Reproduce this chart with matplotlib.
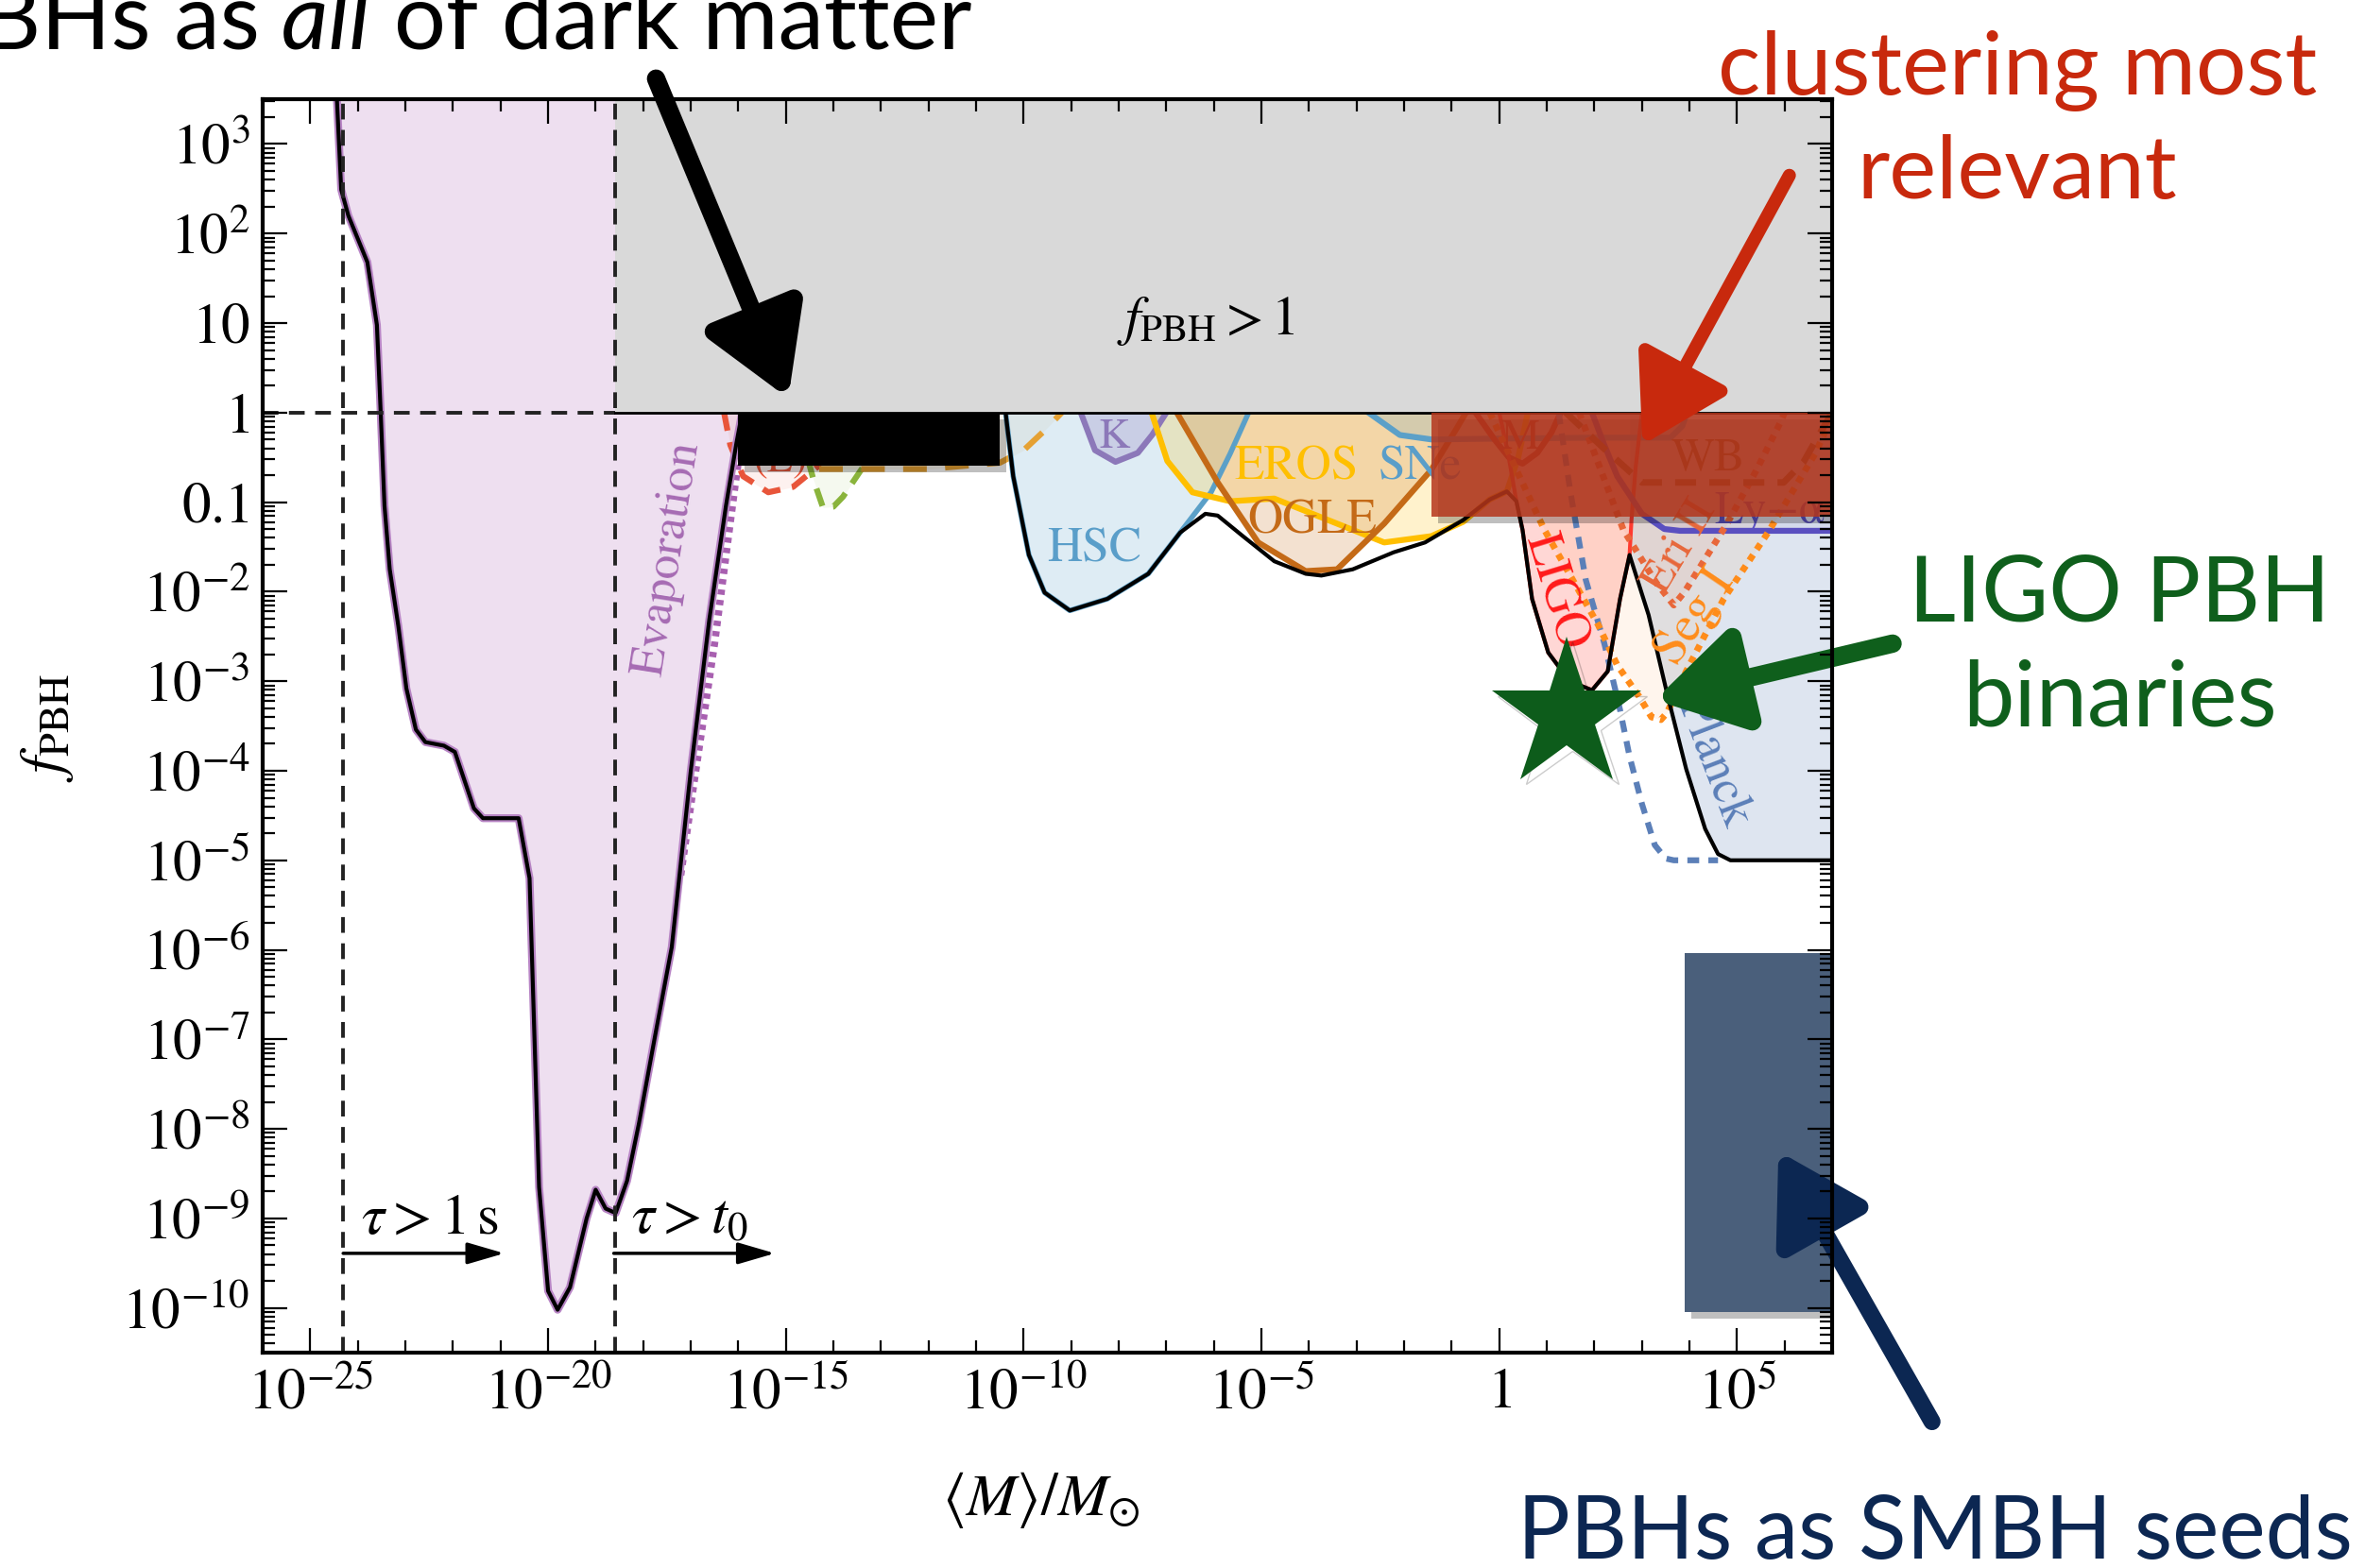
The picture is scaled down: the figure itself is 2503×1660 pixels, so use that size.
import numpy as np
import matplotlib
matplotlib.use("Agg")
import matplotlib.pyplot as plt
import matplotlib.patheffects as pe
from matplotlib.patches import Rectangle
from matplotlib.ticker import FixedLocator, LogLocator, NullFormatter

plt.rcParams['font.family'] = 'STIXGeneral'
plt.rcParams['mathtext.fontset'] = 'stix'
plt.rcParams['lines.scale_dashes'] = False

# all values below are log10(M/Msun) and log10(f_PBH)

evap_m = [-24.45, -24.35, -24.2, -23.8, -23.6, -23.52, -23.44, -23.33, -23.15, -22.98,
          -22.78, -22.58, -22.19, -21.96, -21.56, -21.37, -20.62, -20.39, -20.19, -20.0,
          -19.8, -19.54, -19.19, -19.0, -18.79, -18.58, -18.34, -18.09, -17.75, -17.4,
          -17.0, -16.61, -16.26, -16.04, -15.92]
evap_f = [3.6, 2.49, 2.2, 1.68, 0.98, 0.0, -1.04, -1.75, -2.38, -3.08,
          -3.54, -3.68, -3.72, -3.79, -4.42, -4.53, -4.53, -5.2, -8.65, -9.81,
          -10.02, -9.77, -9.0, -8.68, -8.89, -8.94, -8.58, -7.94, -6.96, -5.97,
          -4.0, -2.31, -1.04, -0.34, 0.0]
evap_dot_m = [-15.86, -16.07, -16.5, -16.95, -17.22]
evap_dot_f = [0.0, -0.82, -2.58, -4.2, -5.2]

red_l_m = [-16.3, -16.17, -15.9, -15.37, -14.85, -14.32, -14.05]
red_l_f = [0.0, -0.36, -0.71, -0.89, -0.83, -0.6, 0.0]
green_m = [-14.7, -14.42, -14.22, -14.0, -13.8, -13.33, -13.0]
green_f = [-0.2, -0.75, -1.06, -1.05, -0.94, -0.57, -0.15]
orange_m = [-14.3, -12.0, -10.5, -10.0, -9.6, -9.2]
orange_f = [-0.63, -0.63, -0.56, -0.42, -0.22, 0.0]

hsc_m = [-10.38, -10.22, -9.89, -9.56, -9.03, -8.24, -7.38, -6.71, -6.06, -5.66, -5.27]
hsc_f = [0.0, -0.71, -1.59, -2.01, -2.21, -2.08, -1.8, -1.34, -0.89, -0.46, 0.0]
kep_m = [-8.8, -8.5, -8.07, -7.6, -7.3, -7.0]
kep_f = [0.0, -0.42, -0.55, -0.45, -0.25, 0.0]
eros_m = [-7.31, -6.98, -6.45, -5.66, -4.73, -3.74, -2.42, -1.43, -0.76, -0.2, 0.16, 0.4, 0.6]
eros_f = [0.0, -0.54, -0.89, -0.99, -0.96, -1.17, -1.45, -1.38, -1.22, -0.97, -0.88, -0.5, 0.0]
ogle_m = [-6.78, -5.92, -5.07, -4.07, -3.41, -2.42, -1.43, -0.9, -0.7]
ogle_f = [0.0, -0.78, -1.45, -1.77, -1.75, -1.24, -0.64, -0.18, 0.0]
sne_m = [-2.75, -2.09, -1.42, 0.0, 2.0, 3.6, 3.85, 3.95]
sne_f = [0.0, -0.25, -0.3, -0.29, -0.28, -0.28, -0.15, 0.0]

macho_m = [-0.5, -0.1, 0.2, 0.49, 0.8, 1.1, 1.29]
macho_f = [0.0, -0.3, -0.5, -0.57, -0.45, -0.22, 0.0]
ligo_m = [0.0, 0.2, 0.36, 0.49, 0.69, 1.03, 1.48, 1.95, 2.28, 2.54, 2.74, 2.78, 2.87, 3.0]
ligo_f = [0.0, -0.5, -0.99, -1.31, -2.08, -2.68, -3.0, -3.1, -2.89, -2.08, -1.59, -1.2, -0.6, 0.0]
planck_m = [2.74, 3.14, 3.53, 3.93, 4.33, 4.6, 4.86, 5.2, 7.0]
planck_f = [-1.59, -2.26, -3.14, -3.98, -4.65, -4.93, -5.0, -5.0, -5.0]
planck_d_m = [1.25, 1.5, 1.82, 2.21, 2.54, 2.74, 3.0, 3.27, 3.5, 3.67, 4.6]
planck_d_f = [0.0, -0.9, -1.87, -2.58, -3.32, -3.84, -4.37, -4.83, -4.98, -5.0, -5.0]
lya_m = [1.95, 2.2, 2.48, 3.0, 3.47, 3.8, 7.0]
lya_f = [0.0, -0.35, -0.71, -1.13, -1.3, -1.32, -1.32]
eri_m = [1.68, 2.61, 3.3, 3.67, 3.9, 4.79, 5.4, 5.91, 6.0]
eri_f = [0.0, -1.31, -1.9, -2.15, -2.0, -1.24, -0.65, -0.11, 0.0]
seg_m = [-0.2, 0.95, 2.08, 2.48, 2.94, 3.2, 3.4, 3.53, 3.93, 4.72, 5.65, 6.64, 6.95]
seg_f = [0.0, -1.31, -2.37, -2.82, -3.17, -3.4, -3.43, -3.35, -2.89, -2.08, -1.34, -0.46, -0.1]
wb_m = [1.4, 2.2, 3.0, 4.5, 5.98, 6.4, 6.72, 7.0]
wb_f = [0.0, -0.4, -0.78, -0.78, -0.78, -0.55, -0.25, 0.0]

env_m = [-10.38, -10.22, -9.89, -9.56, -9.03, -8.24, -7.38, -6.71, -6.18, -5.92, -5.39,
         -4.73, -4.07, -3.74, -3.08, -2.22, -1.56, -0.76, -0.2, 0.16, 0.36, 0.49, 0.69,
         1.03, 1.48, 1.95, 2.28, 2.54, 2.74, 3.14, 3.53, 3.93, 4.33, 4.6, 4.86, 7.0]
env_f = [0.0, -0.71, -1.59, -2.01, -2.21, -2.08, -1.8, -1.34, -1.13, -1.15, -1.38,
         -1.66, -1.8, -1.82, -1.75, -1.56, -1.45, -1.2, -0.97, -0.88, -0.99, -1.31, -2.08,
         -2.68, -3.0, -3.1, -2.89, -2.08, -1.59, -2.26, -3.14, -3.98, -4.65, -4.93, -5.0, -5.0]

lifetime_m = [-24.31, -18.6]          # tau > 1 s, tau > t0
overclose_m = [-18.6, 7.0]            # f_PBH > 1 band
overclose_f = [0.0, 3.5]
all_dm_m = [-16.0, -10.5]
all_dm_f = [-0.59, 0.0]
cluster_m = [-1.43, 7.0]
cluster_f = [-1.16, 0.0]
seeds_m = [3.9, 7.0]
seeds_f = [-10.05, -6.04]
ligo_star_m = [1.42]
ligo_star_f = [-3.38]

x_major = [-25, -20, -15, -10, -5, 0, 5]
x_labels = [r'$10^{-25}$', r'$10^{-20}$', r'$10^{-15}$', r'$10^{-10}$', r'$10^{-5}$', r'$1$', r'$10^{5}$']
y_major = list(range(-10, 4))
y_labels = [r'$10^{%d}$' % k for k in range(-10, -1)] + [r'$0.1$', r'$1$', r'$10$', r'$10^{2}$', r'$10^{3}$']


def P(m, f):
    return 10.0 ** np.asarray(m, float), 10.0 ** np.asarray(f, float)


def region(m, f, color, alpha, z=1):
    x, y = P(m, f)
    ax.fill_between(x, y, 1.0, color=color, alpha=alpha, lw=0, zorder=z)


def curve(m, f, color, lw=4.5, dashes=None, z=2):
    x, y = P(m, f)
    ln, = ax.plot(x, y, color=color, lw=lw, zorder=z, solid_joinstyle='round')
    if dashes is not None:
        ln.set_dashes(dashes)
    return ln


def box(m, f, color, alpha=1.0, z=6, shadow=True):
    x, y = P(m, f)
    r = Rectangle((x[0], y[0]), x[1] - x[0], y[1] - y[0], facecolor=color, alpha=alpha,
                  lw=0, zorder=z)
    if shadow:
        r.set_path_effects([pe.SimplePatchShadow(offset=(5, -5), shadow_rgbFace='k', alpha=0.25),
                            pe.Normal()])
    ax.add_patch(r)


fig = plt.figure(figsize=(25.03, 16.6), dpi=100)
ax = fig.add_axes([0.1111, 0.1373, 0.6636, 0.7994])
ax.set_xscale('log')
ax.set_yscale('log')
ax.set_xlim(1e-26, 1e7)
ax.set_ylim(10 ** -10.5, 10 ** 3.5)

# evaporation
ex, ey = P(evap_m, evap_f)
ax.fill_between(ex, ey, 10 ** 3.6, color='#eedff0', lw=0, zorder=1)
ev = ax.plot(ex, ey, color='k', lw=3, zorder=3)[0]
ev.set_path_effects([pe.Stroke(linewidth=6, foreground='#b784c4'), pe.Normal()])
curve(evap_dot_m, evap_dot_f, '#a860b0', lw=5.5, dashes=(4, 4), z=2)

# lensing & microlensing
region(red_l_m, red_l_f, '#e8553a', 0.08)
region(green_m, green_f, '#8ab43c', 0.08)
region(orange_m, orange_f, '#e5a133', 0.08)
region(hsc_m, hsc_f, '#5ba0c8', 0.2)
region(kep_m, kep_f, '#8c78b9', 0.25)
region(eros_m, eros_f, '#ffbf00', 0.2)
region(ogle_m, ogle_f, '#c46a17', 0.2)
region(sne_m, sne_f, '#5ba0c8', 0.2)
region(ligo_m, ligo_f, '#ff3b30', 0.2)
region(planck_m, planck_f, '#5b7fb8', 0.2)
region(lya_m, lya_f, '#5a4fb8', 0.08)
region(seg_m, seg_f, '#ff8c1a', 0.08)
region(eri_m, eri_f, '#e8673a', 0.08)

curve(red_l_m, red_l_f, '#e8553a', lw=4.5, dashes=(14, 9))
curve(green_m, green_f, '#8ab43c', lw=4.5, dashes=(14, 9))
curve(orange_m, orange_f, '#e5a133', lw=4.5, dashes=(18, 14))
curve(hsc_m, hsc_f, '#5ba0c8', lw=4)
curve(kep_m, kep_f, '#8c78b9', lw=4.5)
curve(eros_m, eros_f, '#ffbf00', lw=4.5)
curve(ogle_m, ogle_f, '#c46a17', lw=4.5)
curve(sne_m, sne_f, '#5ba0c8', lw=4.5)
curve(macho_m, macho_f, '#c0392b', lw=4.5)
curve(ligo_m, ligo_f, '#ff3b30', lw=3)
curve(planck_d_m, planck_d_f, '#5b7fb8', lw=4.5, dashes=(9, 7))
curve(lya_m, lya_f, '#5a4fc0', lw=4.5)
curve(eri_m, eri_f, '#e8673a', lw=5, dashes=(5, 5))
curve(seg_m, seg_f, '#ff8c1a', lw=5, dashes=(5, 5))
curve(wb_m, wb_f, '#8b5a1e', lw=5, dashes=(16, 10))
curve(env_m, env_f, 'k', lw=3, z=3)

# lifetime lines
for m in lifetime_m:
    ax.axvline(10 ** m, color='#222222', lw=2.8, dashes=(12, 8), zorder=5.6)
ax.plot([1e-26, 10 ** overclose_m[0]], [1, 1], color='#222222', lw=2.8, dashes=(12, 8), zorder=4)

# labels inside
tk = dict(ha='center', va='center', zorder=4)
ax.text(10 ** -17.49, 10 ** -1.63, 'Evaporation', color='#a66bb3', fontsize=37, rotation=81, **tk)
ax.text(10 ** -15.1, 10 ** -0.55, '(L)', color='#e8553a', fontsize=32, **tk)
ax.text(10 ** -8.52, 10 ** -1.53, 'HSC', color='#5a9ec9', fontsize=37, **tk)
ax.text(10 ** -8.1, 10 ** -0.28, 'K', color='#8c78b9', fontsize=33, **tk)
ax.text(10 ** -4.27, 10 ** -0.62, 'EROS', color='#ffbf00', fontsize=37, **tk)
ax.text(10 ** -1.66, 10 ** -0.62, 'SNe', color='#5a9ec9', fontsize=37, **tk)
ax.text(10 ** -3.94, 10 ** -1.22, 'OGLE', color='#c46a17', fontsize=37, **tk)
ax.text(10 ** 0.43, 10 ** -0.29, 'M', color='#c0392b', fontsize=33, **tk)
ax.text(10 ** 1.19, 10 ** -2.0, 'LIGO', color='#ff1a1a', fontsize=38, rotation=-73, **tk)
ax.text(10 ** 3.8, 10 ** -1.5, 'Eri II', color='#e8673a', fontsize=36, rotation=59, **tk)
ax.text(10 ** 4.13, 10 ** -2.29, 'Seg I', color='#ff8c1a', fontsize=38, rotation=56, **tk)
ax.text(10 ** 4.5, 10 ** -3.9, 'Planck', color='#5b7fb8', fontsize=38, rotation=-69, **tk)
ax.text(10 ** 4.4, 10 ** -0.52, 'WB', color='#8b5a1e', fontsize=35, **tk)
ax.text(10 ** 4.53, 10 ** -1.24, 'Ly\u2212\u03b1', color='#5a4fc0', fontsize=36, ha='left',
        va='baseline', zorder=4, clip_on=True)

# overclosure band
gx, gy = P(overclose_m, overclose_f)
ax.fill_between(gx, gy[0], gy[1], color='#d9d9d9', lw=0, zorder=5)
ax.plot(gx, [1, 1], color='k', lw=2, zorder=5.5)
ax.text(10 ** -6.16, 10 ** 1.03, r'$f_{\rm PBH} > 1$', fontsize=42, ha='center', va='center', zorder=5.5)

box(all_dm_m, all_dm_f, 'k', z=6)
box(cluster_m, cluster_f, '#b5361c', alpha=0.85, z=7)
box(seeds_m, seeds_f, '#4a5f7b', z=7)

sx, sy = P(ligo_star_m, ligo_star_f)
st, = ax.plot(sx, sy, marker='*', ms=120, color='#0d5c1b', mec='none', zorder=8, clip_on=False)
st.set_path_effects([pe.SimpleLineShadow(offset=(4, -4), alpha=0.2), pe.Normal()])

# lifetime arrows
for (x0, x1), lab in zip([(-24.31, -20.92), (-18.62, -15.23)], [r'$\tau > 1\,\mathrm{s}$', r'$\tau > t_0$']):
    ax.annotate('', xy=(10 ** x1, 10 ** -9.39), xytext=(10 ** x0, 10 ** -9.39),
                arrowprops=dict(arrowstyle='-|>,head_length=1.2,head_width=0.35', mutation_scale=20,
                                lw=2.5, color='k', shrinkA=0, shrinkB=0), zorder=4)
    ax.text(10 ** (x0 + 0.37), 10 ** -9.16, lab, fontsize=44, ha='left', va='baseline', zorder=4)

# axes cosmetics
ax.xaxis.set_major_locator(FixedLocator([10.0 ** k for k in x_major]))
ax.xaxis.set_major_formatter(plt.FixedFormatter(x_labels))
ax.xaxis.set_minor_locator(FixedLocator([10.0 ** k for k in range(-26, 8) if k % 5]))
ax.xaxis.set_minor_formatter(NullFormatter())
ax.yaxis.set_major_locator(FixedLocator([10.0 ** k for k in y_major]))
ax.yaxis.set_major_formatter(plt.FixedFormatter(y_labels))
ax.yaxis.set_minor_locator(LogLocator(base=10, subs=np.arange(2, 10), numticks=100))
ax.yaxis.set_minor_formatter(NullFormatter())
ax.tick_params(which='both', direction='in', top=True, right=True, width=1.6, labelsize=44)
ax.tick_params(which='major', length=19)
ax.tick_params(which='minor', length=9.5)
ax.tick_params(axis='x', pad=12)
ax.tick_params(axis='y', pad=10)
for s in ax.spines.values():
    s.set_linewidth(3)
    s.set_zorder(10)
ax.xaxis.set_zorder(10)
ax.yaxis.set_zorder(10)

ax.set_xlabel(r'$\langle M\rangle/M_{\odot}$', fontsize=46)
ax.xaxis.set_label_coords(0.4955, -0.0935)
ax.set_ylabel(r'$f_{\rm PBH}$', fontsize=46)
ax.yaxis.set_label_coords(-0.119, 0.499)

# annotations
sans = dict(family='Lato', fontsize=70)


def big_arrow(tail, tip, color, lw):
    ax.annotate('', xy=(10 ** tip[0], 10 ** tip[1]), xytext=(10 ** tail[0], 10 ** tail[1]),
                arrowprops=dict(arrowstyle='-|>,head_length=1.0,head_width=0.6', mutation_scale=55,
                                lw=lw, color=color, shrinkA=0, shrinkB=0, capstyle='round',
                                joinstyle='round'),
                annotation_clip=False, zorder=9)


big_arrow((-17.73, 3.73), (-14.95, 0.16), 'k', 14)
big_arrow((6.10, 2.65), (3.01, -0.36), '#c8290d', 10)
big_arrow((8.27, -2.58), (3.27, -3.21), '#0f5f1c', 14)
big_arrow((9.10, -11.27), (5.87, -8.25), '#0c2752', 13)

t3 = fig.text(1028 / 2503, 1 - 52 / 1660, ' of dark matter', ha='right', va='baseline', color='k', **sans)
t2 = ax.annotate(' all', xy=(0, 0), xycoords=t3, ha='right', va='bottom', color='k',
                 style='italic', annotation_clip=False, **sans)
ax.annotate('PBHs as', xy=(0, 0), xycoords=t2, ha='right', va='bottom', color='k',
            annotation_clip=False, **sans)

# va='baseline' on multi-line text sits on the last line
fig.text(2135 / 2503, 1 - 210 / 1660, 'clustering most\nrelevant', ha='center', va='baseline',
         multialignment='center', linespacing=1.35, color='#c8290d', family='Lato', fontsize=68)
fig.text(2243 / 2503, 1 - 768 / 1660, 'LIGO PBH\nbinaries', ha='center', va='baseline',
         multialignment='center', linespacing=1.32, color='#0f5f1c', **sans)
fig.text(1606 / 2503, 1 - 1650 / 1660, 'PBHs as SMBH seeds', ha='left', va='baseline',
         color='#0c2752', family='Lato', fontsize=67)

fig.savefig('out.png', dpi=100)
